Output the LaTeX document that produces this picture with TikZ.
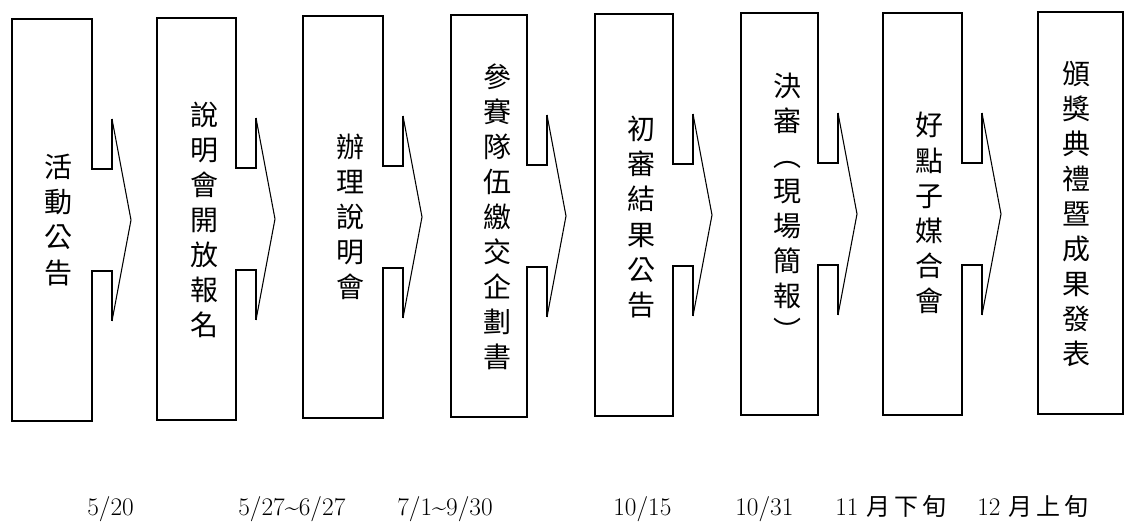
\documentclass[tikz,border=0pt]{standalone}
\usepackage{fontspec}
\newfontfamily\cjk{Noto Sans CJK TC}
\usepackage{tikz}

\begin{document}
\begin{tikzpicture}[x=0.75pt, y=-0.75pt,
    boxline/.style={line width=1.4pt, line join=miter},
    tipline/.style={line width=0.8pt},
    stagetext/.style={align=center, inner sep=0pt, font=\cjk\fontsize{21}{26.3}\selectfont},
    datetext/.style={anchor=base west, inner sep=0pt, font=\fontsize{19}{21}\selectfont}]
    \useasboundingbox (0,0) rectangle (1146,527);

    % Stage boxes with arrow heads (left / right / top)
    \foreach \l/\r/\t in {12/92/19, 157/236/18, 303/383/16, 451/527/15,
                          595/673/14, 741/818/13, 883/962/13}{
        \draw[boxline] ({\r+20},{\t+100}) -- ({\r+20},{\t+150}) -- (\r,{\t+150})
            -- (\r,\t) -- (\l,\t) -- (\l,{\t+402}) -- (\r,{\t+402})
            -- (\r,{\t+252}) -- ({\r+20},{\t+252}) -- ({\r+20},{\t+302});
        \draw[tipline] ({\r+20},{\t+100}) -- ({\r+39},{\t+201}) -- ({\r+20},{\t+302});
    }
    % Last box (no arrow)
    \draw[boxline] (1038,12) rectangle (1123,414);

    % Stage texts
    \node[stagetext] (s1) at (58,220) {活\\動\\公\\告};
    \node[stagetext] (s2) at (204,220) {說\\明\\會\\開\\放\\報\\名};
    \node[stagetext] (s3) at (350,217) {辦\\理\\說\\明\\會};
    \node[stagetext] (s4) at (497,217) {參\\賽\\隊\\伍\\繳\\交\\企\\劃\\書};
    \node[stagetext] (s5) at (641,217) {初\\審\\結\\果\\公\\告};
    \node[stagetext] (s6) at (787,207) {決\\審\\︵\\現\\場\\簡\\報\\︶};
    \node[stagetext] (s7) at (929,213) {好\\點\\子\\媒\\合\\會};
    \node[stagetext] (s8) at (1076,214) {頒\\獎\\典\\禮\\暨\\成\\果\\發\\表};

    % Dates
    \node[datetext] (d1) at (87,515) {5/20};
    \node[datetext] (d2) at (238,515) {5/27\textasciitilde6/27};
    \node[datetext] (d3) at (397,515) {7/1\textasciitilde9/30};
    \node[datetext] (d4) at (613,515) {10/15};
    \node[datetext] (d5) at (735,515) {10/31};
    \node[datetext] (d6) at (835,515) {11 {\cjk\fontsize{18}{20}\selectfont 月\,下\,旬}};
    \node[datetext] (d7) at (977,515) {12 {\cjk\fontsize{18}{20}\selectfont 月\,上\,旬}};
\end{tikzpicture}
\end{document}
